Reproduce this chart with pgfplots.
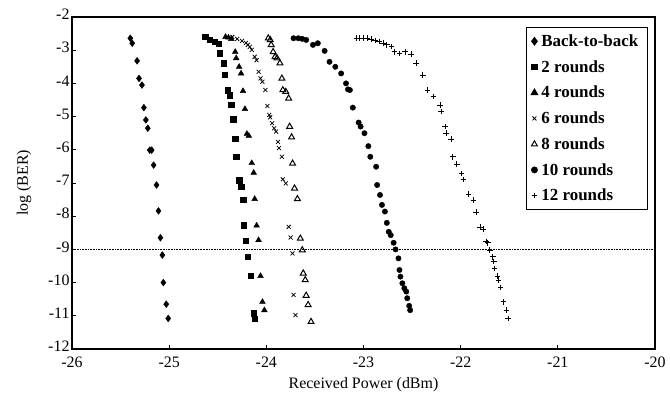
\documentclass[border=0pt]{standalone}
\usepackage{fontspec}
\setmainfont{Liberation Serif}
\usepackage{pgfplots}
\pgfplotsset{compat=1.18}
\begin{document}
\begin{tikzpicture}[x=1bp,y=1bp]
\useasboundingbox (-72,-51) rectangle (598,349);
\begin{axis}[
  at={(0,0)}, anchor=south west,
  scale only axis, width=583bp, height=332bp,
  xmin=-26, xmax=-20, ymin=-12, ymax=-2,
  xtick={-26,-25,...,-20}, ytick={-12,-11,...,-2},
  xtick pos=left, ytick pos=left,
  tick align=inside, major tick length=4bp,
  axis line style={line width=1.6pt},
  every tick/.style={black, line width=0.8pt},
  tick label style={font=\fontsize{16}{18}\selectfont},
  yticklabel style={yshift=2.5bp, xshift=1bp},
  xticklabel style={yshift=-4bp},
  /pgf/number format/assume math mode=true,
  xlabel={Received Power (dBm)}, ylabel={log (BER)},
  label style={font=\fontsize{16}{18}\selectfont},
  xlabel style={yshift=-3bp},
  ylabel style={yshift=10bp},
  legend style={at={(0.988,0.97)}, anchor=north east, draw=black, line width=1.4pt,
    font=\fontsize{17}{19}\selectfont\bfseries, row sep=8.5bp, inner xsep=5bp, inner ysep=5bp,
    cells={anchor=west}, nodes={inner xsep=4bp}},
  legend cell align=left,
]
\addplot[only marks, mark=diamond*, mark size=3.4bp, black] coordinates {
(-25.40,-2.64) (-25.38,-2.79) (-25.33,-3.32) (-25.31,-3.85) (-25.28,-4.05) (-25.26,-4.73)
(-25.24,-5.10) (-25.22,-5.35) (-25.20,-6.01) (-25.18,-6.01) (-25.16,-6.46) (-25.13,-7.06)
(-25.11,-7.84) (-25.09,-8.65) (-25.07,-9.17) (-25.06,-10.00) (-25.03,-10.65) (-25.01,-11.08)};
\addlegendentry{Back-to-back}
\addplot[only marks, mark=square*, mark size=2.7bp, black] coordinates {
(-24.63,-2.59) (-24.58,-2.69) (-24.53,-2.74) (-24.49,-2.81) (-24.48,-3.09) (-24.44,-3.39)
(-24.43,-3.73) (-24.40,-4.20) (-24.38,-4.35) (-24.36,-4.65) (-24.34,-5.08) (-24.32,-5.67)
(-24.31,-6.21) (-24.28,-6.91) (-24.26,-7.11) (-24.24,-7.51) (-24.23,-8.27) (-24.21,-8.74)
(-24.19,-9.22) (-24.16,-9.80) (-24.13,-10.92) (-24.12,-11.08)};
\addlegendentry{2 rounds}
\addplot[only marks, mark=triangle*, mark size=3.3bp, black] coordinates {
(-24.42,-2.60) (-24.39,-2.62) (-24.36,-2.66) (-24.32,-3.05) (-24.31,-3.24) (-24.28,-3.50)
(-24.26,-3.70) (-24.24,-4.23) (-24.22,-4.77) (-24.20,-5.52) (-24.18,-5.58) (-24.15,-6.40)
(-24.13,-6.69) (-24.12,-7.48) (-24.10,-8.28) (-24.08,-8.72) (-24.06,-9.80) (-24.04,-10.58)
(-24.02,-10.83)};
\addlegendentry{4 rounds}
\addplot[only marks, mark=x, mark size=2.8bp, black, mark options={line width=0.75pt}] coordinates {
(-24.35,-2.60) (-24.30,-2.66) (-24.25,-2.72) (-24.21,-2.78) (-24.19,-2.84) (-24.17,-2.90)
(-24.15,-2.99) (-24.12,-3.20) (-24.10,-3.30) (-24.08,-3.65) (-24.06,-3.85) (-24.04,-3.95)
(-24.01,-4.20) (-23.99,-4.68) (-23.97,-4.95) (-23.96,-5.02) (-23.94,-5.20) (-23.92,-5.35)
(-23.90,-5.45) (-23.88,-5.76) (-23.87,-5.95) (-23.84,-6.21) (-23.83,-6.89) (-23.80,-7.01)
(-23.77,-8.32) (-23.75,-8.64) (-23.73,-9.12) (-23.72,-10.37) (-23.70,-10.98)};
\addlegendentry{6 rounds}
\addplot[only marks, mark=triangle, mark size=3.4bp, black, mark options={line width=1pt}] coordinates {
(-23.98,-2.64) (-23.96,-2.69) (-23.95,-2.84) (-23.93,-3.05) (-23.91,-3.20) (-23.89,-3.24)
(-23.86,-3.39) (-23.84,-3.85) (-23.83,-4.20) (-23.80,-4.25) (-23.77,-4.45) (-23.76,-5.30)
(-23.74,-5.62) (-23.73,-6.41) (-23.71,-7.16) (-23.68,-7.48) (-23.65,-8.67) (-23.63,-9.02)
(-23.62,-9.72) (-23.60,-9.92) (-23.59,-10.39) (-23.57,-10.67) (-23.54,-11.18)};
\addlegendentry{8 rounds}
\addplot[only marks, mark=*, mark size=2.7bp, black] coordinates {
(-23.72,-2.64) (-23.67,-2.64) (-23.63,-2.66) (-23.59,-2.69) (-23.52,-2.84) (-23.47,-2.79)
(-23.40,-3.02) (-23.35,-3.35) (-23.29,-3.50) (-23.23,-3.70) (-23.18,-4.00) (-23.16,-4.18)
(-23.14,-4.20) (-23.11,-4.73) (-23.05,-5.18) (-23.03,-5.30) (-22.99,-5.50) (-22.95,-5.89)
(-22.93,-6.21) (-22.87,-6.51) (-22.86,-7.06) (-22.83,-7.36) (-22.81,-7.66) (-22.78,-7.86)
(-22.76,-8.20) (-22.74,-8.47) (-22.72,-8.57) (-22.69,-8.80) (-22.67,-9.00) (-22.64,-9.27)
(-22.63,-9.62) (-22.62,-9.82) (-22.60,-10.02) (-22.58,-10.17) (-22.56,-10.27) (-22.55,-10.47)
(-22.53,-10.70) (-22.52,-10.83)};
\addlegendentry{10 rounds}
\addplot[only marks, mark=+, mark size=2.8bp, black, mark options={line width=0.85pt}] coordinates {
(-23.07,-2.64) (-23.04,-2.64) (-23.00,-2.64) (-22.96,-2.64) (-22.92,-2.67) (-22.88,-2.71)
(-22.84,-2.74) (-22.80,-2.79) (-22.76,-2.84) (-22.71,-2.89) (-22.68,-3.05) (-22.63,-3.10)
(-22.57,-3.05) (-22.51,-3.12) (-22.46,-3.39) (-22.39,-3.75) (-22.34,-4.20) (-22.28,-4.40)
(-22.21,-4.65) (-22.20,-4.85) (-22.16,-5.30) (-22.15,-5.50) (-22.10,-5.68) (-22.08,-6.21)
(-22.04,-6.43) (-21.99,-6.71) (-21.97,-6.89) (-21.92,-7.33) (-21.87,-7.51) (-21.84,-7.88)
(-21.80,-8.33) (-21.77,-8.39) (-21.74,-8.76) (-21.72,-8.80) (-21.70,-9.02) (-21.67,-9.22)
(-21.66,-9.37) (-21.65,-9.57) (-21.62,-9.80) (-21.61,-9.92) (-21.59,-10.15) (-21.56,-10.58)
(-21.53,-10.83) (-21.51,-11.08)};
\addlegendentry{12 rounds}
\addplot[black, densely dotted, line width=0.6pt, forget plot] coordinates {(-26,-9) (-20,-9)};
\end{axis}
\end{tikzpicture}
\end{document}
